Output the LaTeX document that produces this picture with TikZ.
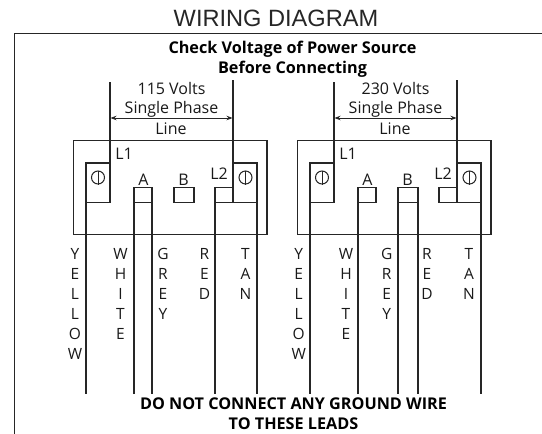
\documentclass[tikz,border=0pt]{standalone}
\usepackage{fontspec}
\setmainfont{Open Sans}
\newfontfamily\titlefont{Liberation Sans}
\usetikzlibrary{arrows.meta}
\tikzset{
	wire/.style={draw=black!85,line width=1.2pt},
	dimline/.style={draw=black!85,line width=0.9pt,{Stealth[length=6pt,width=4.5pt]}-{Stealth[length=6pt,width=4.5pt]}},
	screw/.style={circle,draw=black!85,line width=1pt,minimum size=13pt,inner sep=0pt},
	lbl/.style={font=\fontsize{16}{19}\selectfont,inner sep=0pt,text=black!90},
	letters/.style={font=\fontsize{15.5}{20}\selectfont,inner sep=0pt,align=center,anchor=north,text=black!90},
	boldlbl/.style={font=\fontsize{16.2}{20.5}\selectfont\bfseries,inner sep=0pt,align=center,text=black}
}
\begin{document}
\begin{tikzpicture}[x=1pt,y=-1pt]
	\useasboundingbox (0,0) rectangle (542,434);

	% title and frame
	\node[inner sep=0pt,font=\titlefont\fontsize{23.6}{26}\selectfont,text=black!85] (title) at (276,18) {WIRING DIAGRAM};
	\coordinate (frameA) at (14.5,434);
	\coordinate (frameB) at (14.5,33.5);
	\coordinate (frameC) at (542,33.5);
	\draw[wire] (frameA) -- (frameB) -- (frameC);

	% texts at top and bottom
	\node[boldlbl] (check) at (292.5,59) {Check Voltage of Power Source\\Before Connecting};
	\node[boldlbl] (donot) at (293.5,413.5) {DO NOT CONNECT ANY GROUND WIRE\\TO THESE LEADS};

	% the parts both panels have
	\foreach \p/\dx/\volts in {l/0/115,r/224/230}{
		\begin{scope}[xshift=\dx]
			% box
			\node[draw=black!85,line width=1.2pt,minimum width=193.5pt,minimum height=94.5pt,inner sep=0pt] (box\p) at (170.25,187.5) {};

			% line wires and left terminal
			\coordinate (\p top1) at (110,82);
			\coordinate (\p top2) at (233,80);
			\coordinate (\p t1a) at (110,202.5);
			\coordinate (\p t1b) at (86,202.5);
			\coordinate (\p t1c) at (86,163);
			\coordinate (\p t1d) at (110,163);
			\coordinate (\p yellow) at (86,394);
			\draw[wire] (\p top1) -- (\p t1a) -- (\p t1b);
			\draw[wire] (\p t1d) -- (\p t1c) -- (\p yellow);

			% right terminal
			\coordinate (\p t2a) at (233,202.5);
			\coordinate (\p t2c) at (257,163);
			\coordinate (\p t2d) at (233,163);
			\coordinate (\p tan) at (257,394);
			\draw[wire] (\p top2) -- (\p t2a);
			\draw[wire] (\p t2d) -- (\p t2c) -- (\p tan);

			% screws
			\node[screw] (\p s1) at (98,177.5) {};
			\node[screw] (\p s2) at (245.5,177.5) {};
			\draw[wire,line width=1pt] (\p s1.north) -- (\p s1.south);
			\draw[wire,line width=1pt] (\p s2.north) -- (\p s2.south);

			% dimension
			\coordinate (\p dimA) at (110.5,118);
			\coordinate (\p dimB) at (232.5,118);
			\draw[dimline] (\p dimA) -- (\p dimB);
			\node[lbl,align=center] (\p volts) at (171.5,100) {\volts{} Volts\\Single Phase};
			\node[lbl] (\p line) at (171,128.5) {Line};

			% terminal names
			\node[lbl] (\p L1) at (124,154) {L1};
			\node[lbl] (\p L2) at (219,174) {L2};
			\node[lbl] (\p A) at (143.5,179.5) {A};
			\node[lbl] (\p B) at (183.5,179.5) {B};

			% L2 box
			\coordinate (\p L2a) at (233,187.5);
			\coordinate (\p L2b) at (215,187.5);
			\coordinate (\p L2c) at (215,202.5);
			\coordinate (\p L2d) at (257,202.5);
			\draw[wire] (\p L2a) -- (\p L2b) -- (\p L2c);
			\draw[wire] (\p L2c) -- (\p L2d);

			% white lead and A box
			\coordinate (\p Aa) at (134,187.5);
			\coordinate (\p Ab) at (152,187.5);
			\coordinate (\p Ac) at (134,202.5);
			\coordinate (\p Ad) at (152,202.5);
			\coordinate (\p white) at (134,394);
			\draw[wire] (\p white) -- (\p Aa) -- (\p Ab) -- (\p Ad) -- (\p Ac);

			% B box
			\coordinate (\p Ba) at (174,187.5);
			\coordinate (\p Bb) at (194,187.5);
			\coordinate (\p Bc) at (194,202.5);
			\coordinate (\p Bd) at (174,202.5);
			\draw[wire] (\p Ba) -- (\p Bb) -- (\p Bc) -- (\p Bd) -- cycle;
		\end{scope}
	}

	% leads that differ between the panels
	\coordinate (lgrey) at (152,394);
	\coordinate (lred) at (215,394);
	\coordinate (rgrey) at (398,394);
	\coordinate (rred) at (418,394);
	\coordinate (rL2f) at (439,202.5);
	\draw[wire] (lAd) -- (lgrey);
	\draw[wire] (lL2c) -- (lred);
	\draw[wire] (rBd) -- (rgrey);
	\draw[wire] (rBc) -- (rred);

	% lead names, left
	\node[letters] (lYname) at (75,248.5) {Y\\E\\L\\L\\O\\W};
	\node[letters] (lWname) at (120.5,248.5) {W\\H\\I\\T\\E};
	\node[letters] (lGname) at (163,248.5) {G\\R\\E\\Y};
	\node[letters] (lRname) at (204.5,248.5) {R\\E\\D};
	\node[letters] (lTname) at (245.5,248.5) {T\\A\\N};

	% lead names, right
	\node[letters] (rYname) at (298.7,248.5) {Y\\E\\L\\L\\O\\W};
	\node[letters] (rWname) at (346,248.5) {W\\H\\I\\T\\E};
	\node[letters] (rGname) at (386.7,248.5) {G\\R\\E\\Y};
	\node[letters] (rRname) at (427,248.5) {R\\E\\D};
	\node[letters] (rTname) at (469,248.5) {T\\A\\N};
\end{tikzpicture}
\end{document}
